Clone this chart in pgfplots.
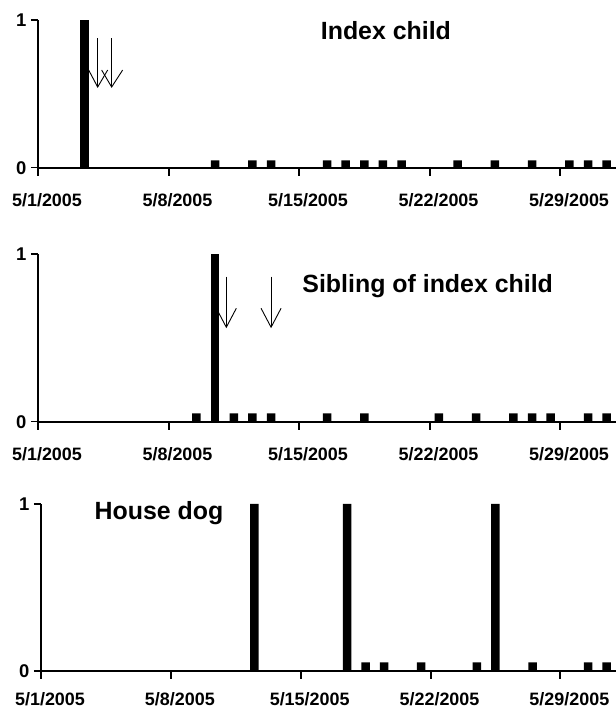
\documentclass[border=0pt]{standalone}
\usepackage{fontspec}
\setmainfont{Liberation Sans}
\usepackage{pgfplots}
\pgfplotsset{compat=1.18}
\pgfplotsset{
  panel/.style={
    scale only axis, anchor=south west,
    axis x line*=bottom, axis y line*=left,
    axis line style={line width=1.8bp,-},
    xmin=0, xmax=31, ymin=0, ymax=1,
    xtick={0,7,14,21,28},
    xticklabels={5/1/2005,5/8/2005,5/15/2005,5/22/2005,5/29/2005},
    ytick={0,1},
    xtick pos=bottom, ytick pos=left,
    every tick/.style={line width=1.6bp,black},
    major tick length=7bp,
    tick align=outside,
    /pgf/number format/assume math mode=true,
    xticklabel style={font=\bfseries\fontsize{18}{20}\selectfont, anchor=north, xshift=9bp, yshift=-15bp},
    yticklabel style={font=\bfseries\fontsize{18.5}{20}\selectfont, anchor=east, xshift=-1bp},
    clip=false,
  },
  pos/.style={ybar, bar width=8.5bp, bar shift=0pt, fill=black, draw=none},
  neg/.style={ybar, bar width=8.5bp, bar shift=0pt, fill=black, draw=none},
}
\tikzset{
  ttl/.style={font=\bfseries\fontsize{25}{28}\selectfont},
  arr/.style={line width=0.9bp, black},
  tk/.style={line width=2bp, black},
}
\newcommand{\xticks}{%
  \draw[tk] (axis cs:0,0) -- ([yshift=-8bp]axis cs:0,0);
  \draw[tk] (axis cs:7,0) -- ([yshift=-8bp]axis cs:7,0);
  \draw[tk] (axis cs:14,0) -- ([yshift=-8bp]axis cs:14,0);
  \draw[tk] (axis cs:21,0) -- ([yshift=-8bp]axis cs:21,0);
  \draw[tk] (axis cs:28,0) -- ([yshift=-8bp]axis cs:28,0);
}
\begin{document}
\begin{tikzpicture}
\useasboundingbox (0,0) rectangle (616bp,711bp);
% ---------- Index child ----------
\begin{axis}[panel, at={(38bp,543.3bp)}, width=578bp, height=147.7bp]
\addplot[pos] coordinates {(2.5,1)};
\addplot[neg] coordinates {(9.5,0.05) (11.5,0.05) (12.5,0.05) (15.5,0.05) (16.5,0.05) (17.5,0.05) (18.5,0.05) (19.5,0.05) (22.5,0.05) (24.5,0.05) (26.5,0.05) (28.5,0.05) (29.5,0.05) (30.5,0.05)};
\xticks
\draw[arr] (axis cs:3.2,0.878) -- (axis cs:3.2,0.546);
\draw[arr] ([xshift=-9bp,yshift=17bp]axis cs:3.2,0.546) -- (axis cs:3.2,0.546) -- ([xshift=10bp,yshift=17bp]axis cs:3.2,0.546);
\draw[arr] (axis cs:3.95,0.878) -- (axis cs:3.95,0.546);
\draw[arr] ([xshift=-10bp,yshift=17bp]axis cs:3.95,0.546) -- (axis cs:3.95,0.546) -- ([xshift=11bp,yshift=17bp]axis cs:3.95,0.546);
\node[ttl] at (axis cs:18.66,0.925) {Index child};
\end{axis}
% ---------- Sibling ----------
\begin{axis}[panel, at={(38bp,289.3bp)}, width=578bp, height=167.7bp]
\addplot[pos] coordinates {(9.5,1)};
\addplot[neg] coordinates {(8.5,0.05) (10.5,0.05) (11.5,0.05) (12.5,0.05) (15.5,0.05) (17.5,0.05) (21.5,0.05) (23.5,0.05) (25.5,0.05) (26.5,0.05) (27.5,0.05) (29.5,0.05) (30.5,0.05)};
\xticks
\draw[arr] (axis cs:10.1,0.865) -- (axis cs:10.1,0.563);
\draw[arr] ([xshift=-10bp,yshift=19bp]axis cs:10.1,0.563) -- (axis cs:10.1,0.563) -- ([xshift=10bp,yshift=19bp]axis cs:10.1,0.563);
\draw[arr] (axis cs:12.5,0.865) -- (axis cs:12.5,0.563);
\draw[arr] ([xshift=-10bp,yshift=19bp]axis cs:12.5,0.563) -- (axis cs:12.5,0.563) -- ([xshift=10bp,yshift=19bp]axis cs:12.5,0.563);
\node[ttl] at (axis cs:20.9,0.81) {Sibling of index child};
\end{axis}
% ---------- House dog ----------
\begin{axis}[panel, at={(41bp,40.3bp)}, width=575bp, height=166.7bp, xticklabel style={yshift=3.5bp}]
\addplot[pos] coordinates {(11.5,1) (16.5,1) (24.5,1)};
\addplot[neg] coordinates {(17.5,0.05) (18.5,0.05) (20.5,0.05) (23.5,0.05) (26.5,0.05) (29.5,0.05) (30.5,0.05)};
\xticks
\node[ttl] at (axis cs:6.36,0.946) {House dog};
\end{axis}
\end{tikzpicture}
\end{document}
